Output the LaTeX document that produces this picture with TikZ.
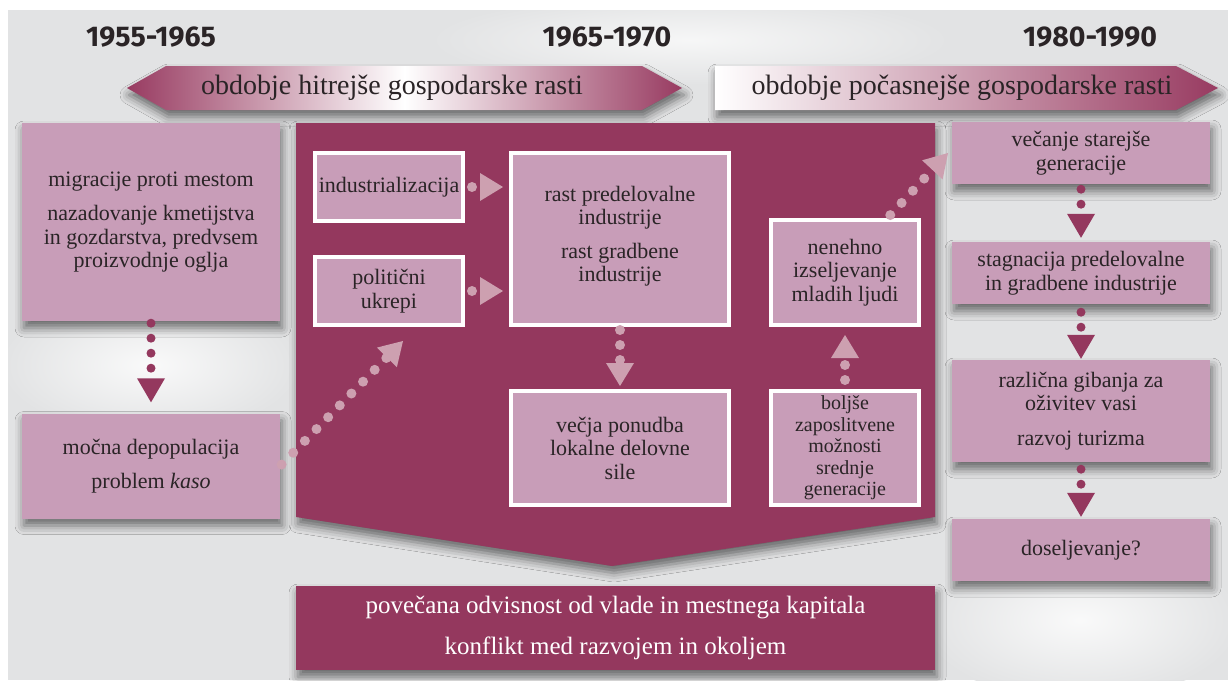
\documentclass[tikz,border=0pt]{standalone}
\usepackage{fontspec}
\setmainfont{Liberation Serif}
\newfontfamily\yearfont{Fira Sans}
\usetikzlibrary{arrows.meta,shadows.blur,calc}
\definecolor{dk}{HTML}{94385E}
\definecolor{bdk}{HTML}{983B61}
\definecolor{lp}{HTML}{C89DB8}
\definecolor{la}{HTML}{CDA0B0}
\definecolor{txt}{HTML}{2A2426}
\definecolor{bg}{HTML}{E2E3E4}
\begin{document}
\begin{tikzpicture}[x=1pt,y=-1pt,
  shad/.style={blur shadow={shadow xshift=2pt,shadow yshift=-7pt,shadow blur radius=9pt,shadow opacity=55}},
  lbox/.style={shad,fill=lp,text=txt,align=center,inner sep=0pt,minimum width=258pt,font=\fontsize{22}{23.5}\selectfont},
  wbox/.style={fill=lp,draw=white,line width=4pt,text=txt,align=center,inner sep=0pt,font=\fontsize{22}{23.5}\selectfont},
  year/.style={text=txt,font=\yearfont\bfseries\fontsize{28.5}{30}\selectfont},
  bantext/.style={text=txt,font=\fontsize{28}{30}\selectfont},
  dkdots/.style={draw=dk,line width=9pt,line cap=round,dash pattern=on 0pt off 15pt,-{Triangle[width=28pt,length=24pt,line width=0pt]}},
  ltdots/.style={draw=la,line width=10pt,line cap=round,dash pattern=on 0pt off 15pt,-{Triangle[width=28pt,length=23pt,line width=0pt]}}
]
\useasboundingbox (0,0) rectangle (1228,680);
\fill[white] (0,0) rectangle (1228,680);
\fill[bg] (8,10) rectangle (1228,680);
% soft light areas of the background
\begin{scope}
\clip (8,10) rectangle (1228,680);
\shade[inner color=white!80!bg,outer color=bg] (150,365) ellipse [x radius=150pt,y radius=70pt];
\shade[inner color=white!80!bg,outer color=bg] (1080,620) ellipse [x radius=160pt,y radius=80pt];
\shade[inner color=white!70!bg,outer color=bg] (690,40) ellipse [x radius=260pt,y radius=45pt];
\end{scope}

% year labels
\node[year] (y1) at (151,37) {1955-1965};
\node[year] (y2) at (607,37) {1965-1970};
\node[year] (y3) at (1090,37) {1980-1990};

% banners
\shade[shad,left color=bdk,right color=bdk,middle color=white]
  (127,88) -- (166,66) -- (642,66) -- (682,88) -- (642,110) -- (166,110) -- cycle;
\shade[shad,left color=white,right color=bdk]
  (715,66) -- (1176,66) -- (1218,88) -- (1176,110) -- (715,110) -- cycle;
\node[bantext] (b1) at (392,88) {obdobje hitrejše gospodarske rasti};
\node[bantext] (b2) at (962,88) {obdobje počasnejše gospodarske rasti};

% big dark shape
\fill[dk,shad] (296,123) -- (935,123) -- (935,517) -- (612,566) -- (296,517) -- cycle;

% left column
\node[lbox,minimum height=198pt] (mig) at (151,222)
  {migracije proti mestom\\[11pt]nazadovanje kmetijstva\\in gozdarstva, predvsem\\proizvodnje oglja};
\node[lbox,minimum height=105pt] (moc) at (151,466)
  {močna depopulacija\\[10pt]problem \textit{kaso}};

% inner boxes
\node[wbox,minimum width=148pt,minimum height=68pt] (ind) at (389,187) {industrializacija};
\node[wbox,minimum width=148pt,minimum height=68pt] (pol) at (389,291) {politični\\ukrepi};
\node[wbox,minimum width=218pt,minimum height=172pt] (rast) at (620,239)
  {rast predelovalne\\industrije\\[10pt]rast gradbene\\industrije\rule[-10pt]{0pt}{10pt}};
\node[wbox,minimum width=218pt,minimum height=114pt] (vec) at (620,448)
  {večja ponudba\\lokalne delovne\\sile};
\node[wbox,minimum width=148pt,minimum height=105pt] (nen) at (845,272.5)
  {nenehno\\izseljevanje\\mladih ljudi};
\node[wbox,minimum width=148pt,minimum height=114pt,font=\fontsize{20}{21.5}\selectfont] (bol) at (845,448)
  {boljše\\zaposlitvene\\možnosti\\srednje\\generacije};

% right column
\node[lbox,minimum height=62pt] (sta) at (1081,153) {večanje starejše\\generacije};
\node[lbox,minimum height=62pt] (stg) at (1081,273) {stagnacija predelovalne\\in gradbene industrije};
\node[lbox,minimum height=102pt] (raz) at (1081,411) {različna gibanja za\\oživitev vasi\\[11pt]razvoj turizma};
\node[lbox,minimum height=62pt] (dos) at (1081,550) {doseljevanje?};

% bottom box
\node[fill=dk,shad,text=white,align=center,inner sep=0pt,minimum width=639pt,minimum height=84pt,
  font=\fontsize{25}{41}\selectfont] (bot) at (615.5,628)
  {povečana odvisnost od vlade in mestnega kapitala\\konflikt med razvojem in okoljem};

% connectors
\draw[dkdots,shorten <=2pt,shorten >=11pt] (mig.south) -- (moc.north);
\draw[dkdots,shorten <=5pt,shorten >=4pt] (sta.south) -- (stg.north);
\draw[dkdots,shorten <=8pt,shorten >=1pt] (stg.south) -- (raz.north);
\draw[dkdots,shorten <=7pt,shorten >=2pt] (raz.south) -- (dos.north);

\draw[ltdots,shorten <=7pt,shorten >=6pt] (ind.east) -- (ind.east -| rast.west);
\draw[ltdots,shorten <=7pt,shorten >=6pt] (pol.east) -- (pol.east -| rast.west);
\draw[ltdots,shorten <=3pt,shorten >=3pt] (rast.south) -- (vec.north);
\draw[ltdots,shorten <=9pt,shorten >=8pt] (bol.north) -- (nen.south);

\coordinate (p1) at (403,341);
\coordinate (v1) at (948,153);
\draw[ltdots,dash pattern=on 0pt off 16.6pt,shorten <=2pt] (moc.east) -- (p1);
\draw[ltdots,dash pattern=on 0pt off 16.6pt,shorten <=4pt] ($(nen.north west)!0.78!(nen.north east)$) -- (v1);
\end{tikzpicture}
\end{document}
